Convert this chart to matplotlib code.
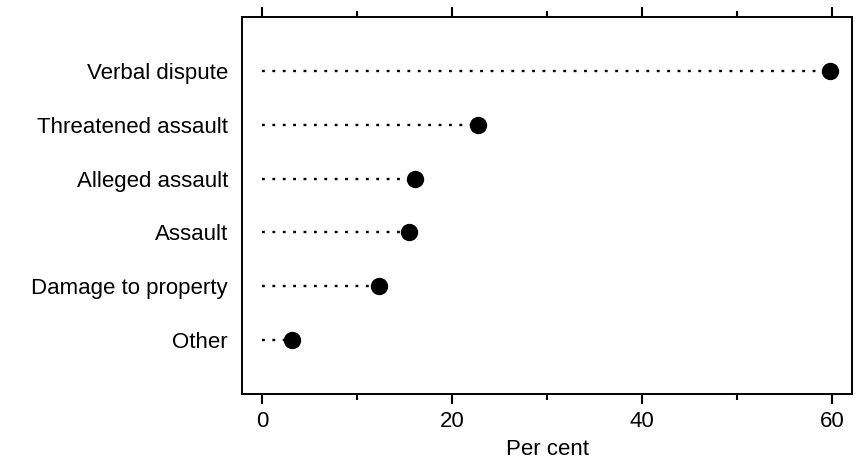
import matplotlib
matplotlib.use("Agg")
import matplotlib.pyplot as plt
from matplotlib.ticker import MultipleLocator

plt.rcParams['font.family'] = ['Liberation Sans', 'DejaVu Sans']

categories = ["Verbal dispute", "Threatened assault", "Alleged assault",
              "Assault", "Damage to property", "Other"]
values = [59.8, 22.7, 16.1, 15.5, 12.3, 3.2]
xticks = [0, 20, 40, 60]
xlabel = "Per cent"

fig = plt.figure(figsize=(8.59, 4.66), dpi=100)
ax = fig.add_axes([0.2817, 0.1545, 0.9919 - 0.2817, 0.9635 - 0.1545])

ypos = list(range(1, len(categories) + 1))
for y, v in zip(ypos, values):
    ax.plot([0, v], [y, y], color='black', linestyle=(0, (1.2, 3.2)), linewidth=1.7,
            dash_capstyle='butt')
ax.plot(values, ypos, 'o', color='black', markersize=11.5, linestyle='none')

ax.set_ylim(len(categories) + 1, 0)
ax.set_xlim(-2.1, 62.1)
ax.set_yticks(ypos)
ax.set_yticklabels(categories, fontsize=16)
ax.tick_params(axis='y', length=0, pad=10)

ax.set_xticks(xticks)
ax.set_xticklabels([str(t) for t in xticks], fontsize=16)
ax.xaxis.set_minor_locator(MultipleLocator(10))
ax.tick_params(axis='x', which='major', direction='out', length=7, width=1.5,
               top=True, bottom=True, pad=5)
ax.tick_params(axis='x', which='minor', direction='out', length=4, width=1.5,
               top=True, bottom=True)
ax.set_xlabel(xlabel, fontsize=16, labelpad=5)

for s in ax.spines.values():
    s.set_linewidth(1.4)

fig.savefig("out.png", dpi=100)
